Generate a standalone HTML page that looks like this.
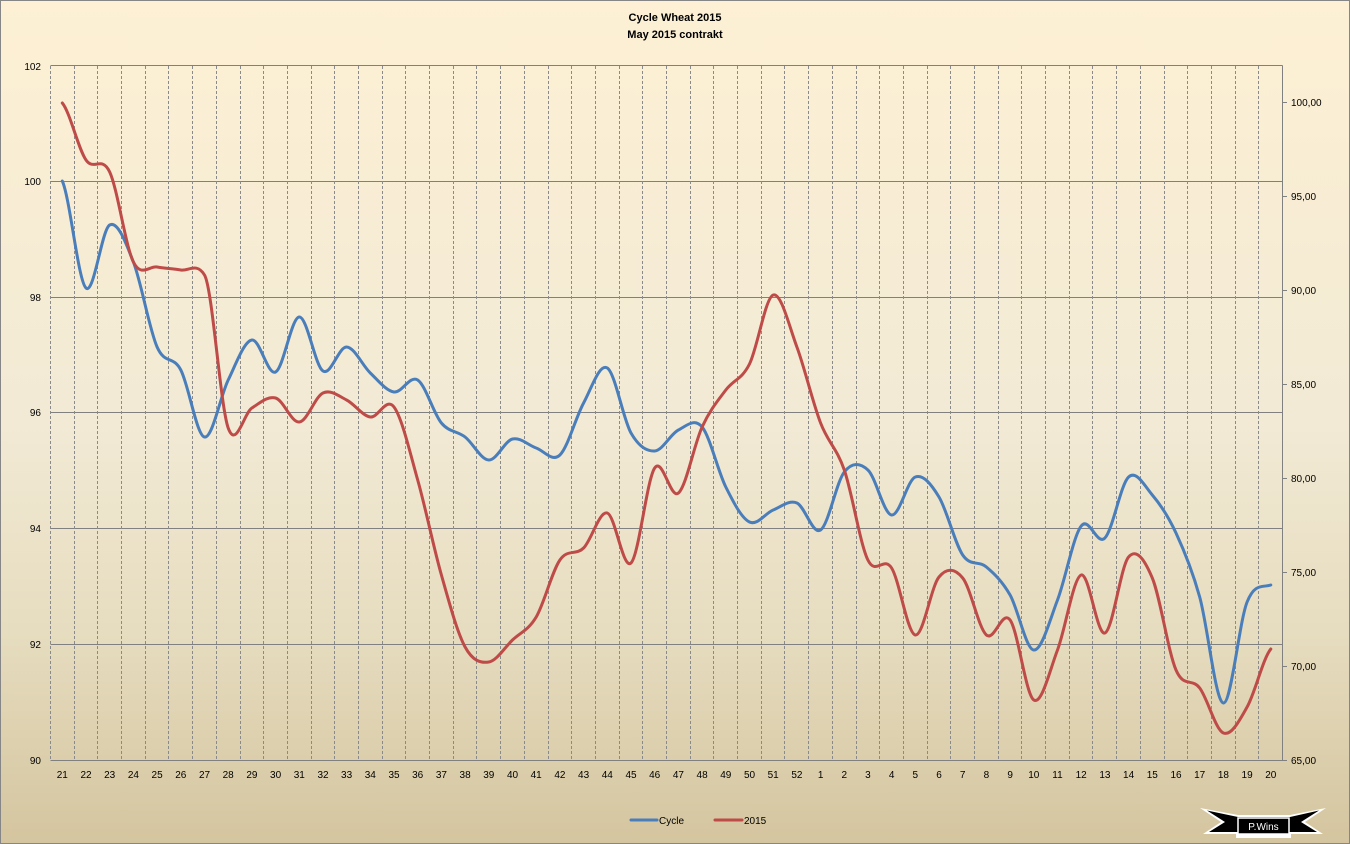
<!DOCTYPE html>
<html><head><meta charset="utf-8"><style>
html,body{margin:0;padding:0;}
body{width:1350px;height:844px;overflow:hidden;}
svg{display:block;}
text{font-family:"Liberation Sans",sans-serif;fill:#000;}
</style></head><body>
<svg width="1350" height="844" viewBox="0 0 1350 844" xmlns="http://www.w3.org/2000/svg">
<defs>
<linearGradient id="bg" x1="0" y1="0" x2="0" y2="1">
<stop offset="0" stop-color="#FDF0D4"/>
<stop offset="0.5" stop-color="#F2EAD5"/>
<stop offset="0.75" stop-color="#E6DCBF"/>
<stop offset="1" stop-color="#D4C59F"/>
</linearGradient>
</defs>
<rect x="0" y="0" width="1350" height="844" fill="url(#bg)"/>
<rect x="0.5" y="0.5" width="1349" height="843" fill="none" stroke="#868686" stroke-width="1"/>

<text x="675" y="21" font-size="11" font-weight="bold" text-anchor="middle">Cycle Wheat 2015</text>
<text x="675" y="38" font-size="11" font-weight="bold" text-anchor="middle">May 2015 contrakt</text>

<g stroke="#808080" stroke-width="1">
<line x1="50.5" y1="65.5" x2="1282.5" y2="65.5"/>
<line x1="50.5" y1="181.5" x2="1282.5" y2="181.5"/>
<line x1="50.5" y1="297.5" x2="1282.5" y2="297.5"/>
<line x1="50.5" y1="412.5" x2="1282.5" y2="412.5"/>
<line x1="50.5" y1="528.5" x2="1282.5" y2="528.5"/>
<line x1="50.5" y1="644.5" x2="1282.5" y2="644.5"/>
<line x1="50.5" y1="760.5" x2="1282.5" y2="760.5"/>
<line x1="1282.5" y1="65.5" x2="1282.5" y2="760.5"/>
</g>
<g stroke="#8a8a8a" stroke-width="1" stroke-dasharray="3,2">
<line x1="50.5" y1="66" x2="50.5" y2="760"/>
<line x1="74.5" y1="66" x2="74.5" y2="760"/>
<line x1="97.5" y1="66" x2="97.5" y2="760"/>
<line x1="121.5" y1="66" x2="121.5" y2="760"/>
<line x1="145.5" y1="66" x2="145.5" y2="760"/>
<line x1="168.5" y1="66" x2="168.5" y2="760"/>
<line x1="192.5" y1="66" x2="192.5" y2="760"/>
<line x1="216.5" y1="66" x2="216.5" y2="760"/>
<line x1="240.5" y1="66" x2="240.5" y2="760"/>
<line x1="263.5" y1="66" x2="263.5" y2="760"/>
<line x1="287.5" y1="66" x2="287.5" y2="760"/>
<line x1="311.5" y1="66" x2="311.5" y2="760"/>
<line x1="334.5" y1="66" x2="334.5" y2="760"/>
<line x1="358.5" y1="66" x2="358.5" y2="760"/>
<line x1="382.5" y1="66" x2="382.5" y2="760"/>
<line x1="405.5" y1="66" x2="405.5" y2="760"/>
<line x1="429.5" y1="66" x2="429.5" y2="760"/>
<line x1="453.5" y1="66" x2="453.5" y2="760"/>
<line x1="476.5" y1="66" x2="476.5" y2="760"/>
<line x1="500.5" y1="66" x2="500.5" y2="760"/>
<line x1="524.5" y1="66" x2="524.5" y2="760"/>
<line x1="548.5" y1="66" x2="548.5" y2="760"/>
<line x1="571.5" y1="66" x2="571.5" y2="760"/>
<line x1="595.5" y1="66" x2="595.5" y2="760"/>
<line x1="619.5" y1="66" x2="619.5" y2="760"/>
<line x1="642.5" y1="66" x2="642.5" y2="760"/>
<line x1="666.5" y1="66" x2="666.5" y2="760"/>
<line x1="690.5" y1="66" x2="690.5" y2="760"/>
<line x1="713.5" y1="66" x2="713.5" y2="760"/>
<line x1="737.5" y1="66" x2="737.5" y2="760"/>
<line x1="761.5" y1="66" x2="761.5" y2="760"/>
<line x1="784.5" y1="66" x2="784.5" y2="760"/>
<line x1="808.5" y1="66" x2="808.5" y2="760"/>
<line x1="832.5" y1="66" x2="832.5" y2="760"/>
<line x1="856.5" y1="66" x2="856.5" y2="760"/>
<line x1="879.5" y1="66" x2="879.5" y2="760"/>
<line x1="903.5" y1="66" x2="903.5" y2="760"/>
<line x1="927.5" y1="66" x2="927.5" y2="760"/>
<line x1="950.5" y1="66" x2="950.5" y2="760"/>
<line x1="974.5" y1="66" x2="974.5" y2="760"/>
<line x1="998.5" y1="66" x2="998.5" y2="760"/>
<line x1="1021.5" y1="66" x2="1021.5" y2="760"/>
<line x1="1045.5" y1="66" x2="1045.5" y2="760"/>
<line x1="1069.5" y1="66" x2="1069.5" y2="760"/>
<line x1="1092.5" y1="66" x2="1092.5" y2="760"/>
<line x1="1116.5" y1="66" x2="1116.5" y2="760"/>
<line x1="1140.5" y1="66" x2="1140.5" y2="760"/>
<line x1="1164.5" y1="66" x2="1164.5" y2="760"/>
<line x1="1187.5" y1="66" x2="1187.5" y2="760"/>
<line x1="1211.5" y1="66" x2="1211.5" y2="760"/>
<line x1="1235.5" y1="66" x2="1235.5" y2="760"/>
<line x1="1258.5" y1="66" x2="1258.5" y2="760"/>
</g>
<g stroke="#808080" stroke-width="1">
<line x1="1282" y1="102.5" x2="1287" y2="102.5"/>
<line x1="1282" y1="196.5" x2="1287" y2="196.5"/>
<line x1="1282" y1="290.5" x2="1287" y2="290.5"/>
<line x1="1282" y1="384.5" x2="1287" y2="384.5"/>
<line x1="1282" y1="478.5" x2="1287" y2="478.5"/>
<line x1="1282" y1="572.5" x2="1287" y2="572.5"/>
<line x1="1282" y1="666.5" x2="1287" y2="666.5"/>
<line x1="1282" y1="760.5" x2="1287" y2="760.5"/>
</g>

<g font-size="10" text-anchor="end">
<text x="41" y="70">102</text>
<text x="41" y="185">100</text>
<text x="41" y="301">98</text>
<text x="41" y="416">96</text>
<text x="41" y="532">94</text>
<text x="41" y="648">92</text>
<text x="41" y="764">90</text>
</g>
<g font-size="10">
<text x="1291" y="106">100,00</text>
<text x="1291" y="200">95,00</text>
<text x="1291" y="294">90,00</text>
<text x="1291" y="388">85,00</text>
<text x="1291" y="482">80,00</text>
<text x="1291" y="576">75,00</text>
<text x="1291" y="670">70,00</text>
<text x="1291" y="764">65,00</text>
</g>
<g font-size="10" text-anchor="middle">
<text x="62.3" y="778">21</text><text x="86.0" y="778">22</text><text x="109.7" y="778">23</text><text x="133.4" y="778">24</text>
<text x="157.1" y="778">25</text><text x="180.8" y="778">26</text><text x="204.5" y="778">27</text><text x="228.2" y="778">28</text>
<text x="251.9" y="778">29</text><text x="275.6" y="778">30</text><text x="299.3" y="778">31</text><text x="323.0" y="778">32</text>
<text x="346.6" y="778">33</text><text x="370.3" y="778">34</text><text x="394.0" y="778">35</text><text x="417.7" y="778">36</text>
<text x="441.4" y="778">37</text><text x="465.1" y="778">38</text><text x="488.8" y="778">39</text><text x="512.5" y="778">40</text>
<text x="536.2" y="778">41</text><text x="559.9" y="778">42</text><text x="583.6" y="778">43</text><text x="607.3" y="778">44</text>
<text x="631.0" y="778">45</text><text x="654.7" y="778">46</text><text x="678.4" y="778">47</text><text x="702.1" y="778">48</text>
<text x="725.8" y="778">49</text><text x="749.5" y="778">50</text><text x="773.2" y="778">51</text><text x="796.9" y="778">52</text>
<text x="820.6" y="778">1</text><text x="844.3" y="778">2</text><text x="867.9" y="778">3</text><text x="891.6" y="778">4</text>
<text x="915.3" y="778">5</text><text x="939.0" y="778">6</text><text x="962.7" y="778">7</text><text x="986.4" y="778">8</text>
<text x="1010.1" y="778">9</text><text x="1033.8" y="778">10</text><text x="1057.5" y="778">11</text><text x="1081.2" y="778">12</text>
<text x="1104.9" y="778">13</text><text x="1128.6" y="778">14</text><text x="1152.3" y="778">15</text><text x="1176.0" y="778">16</text>
<text x="1199.7" y="778">17</text><text x="1223.4" y="778">18</text><text x="1247.1" y="778">19</text><text x="1270.8" y="778">20</text>
</g>

<path fill="none" stroke="#4A7EBB" stroke-width="3" stroke-linejoin="round" stroke-linecap="round" d="
M62.3,181 C70.2,198.8 78.1,280.7 86.0,288
S101.8,229.3 109.7,225 S125.5,241.7 133.4,262 S149.2,329 157.1,347 S172.9,355 180.8,370
S196.6,435.3 204.5,437 S220.3,396.2 228.2,380 S244.0,341.3 251.9,340 S267.7,375.8 275.6,372
S291.4,317.2 299.3,317 S315.1,366 323.0,371 S338.7,346.7 346.6,347 S362.4,365.5 370.3,373
S386.1,390.8 394.0,392 S409.8,374.8 417.7,380 S433.5,413.5 441.4,423 S457.2,430.8 465.1,437
S480.9,459.7 488.8,460 S504.6,441 512.5,439 S528.3,445.3 536.2,448 S552.0,462.5 559.9,455
S575.7,417.5 583.6,403 S599.4,363 607.3,368 S623.1,419.2 631.0,433 S646.8,451.5 654.7,451
S670.5,434 678.4,430 S694.2,417.5 702.1,427 S717.9,471.2 725.8,487 S741.6,518.2 749.5,522
S765.3,513.2 773.2,510 S789.0,499.7 796.9,503 S812.7,535.2 820.6,530 S836.4,482 844.3,472
S860.0,462.8 867.9,470 S883.7,513.8 891.6,515 S907.4,480 915.3,477 S931.1,484 939.0,497
S954.8,543.3 962.7,555 S978.5,560.3 986.4,567 S1002.2,581.2 1010.1,595 S1025.9,649.2 1033.8,650
S1049.6,620.7 1057.5,600 S1073.3,536.3 1081.2,526 S1097.0,546.2 1104.9,538 S1120.7,484.2 1128.6,477
S1144.4,485.7 1152.3,495 S1168.1,516 1176.0,533 S1191.8,568.7 1199.7,597 S1215.5,702.2 1223.4,703
S1239.2,621.7 1247.1,602 S1262.9,587.8 1270.8,585"/>

<path fill="none" stroke="#BE4B48" stroke-width="3" stroke-linejoin="round" stroke-linecap="round" d="
M62.3,103 C70.2,112.5 78.1,148.5 86.0,160
S101.8,155 109.7,172 S125.5,246.2 133.4,262 S149.2,265.7 157.1,267 S172.9,268.7 180.8,270
S196.6,262 204.5,275 S220.3,405.8 228.2,428 S244.0,413 251.9,408 S267.7,395.7 275.6,398
S291.4,422.8 299.3,422 S315.1,396.7 323.0,393 S338.7,396 346.6,400 S362.4,415.8 370.3,417
S386.1,396.5 394.0,407 S409.8,452 417.7,480 S433.5,547.2 441.4,575 S457.2,632.5 465.1,647
S480.9,663.2 488.8,662 S504.6,647.5 512.5,640 S528.3,630.3 536.2,617 S552.0,571.5 559.9,560
S575.7,555.8 583.6,548 S599.4,510.5 607.3,513 S623.1,570.5 631.0,563 S646.8,479.7 654.7,468
S670.5,499.8 678.4,493 S694.2,444.2 702.1,427 S717.9,400.5 725.8,390 S741.6,379.8 749.5,364
S765.3,297.8 773.2,295 S789.0,325.7 796.9,347 S812.7,402.5 820.6,423 S836.4,447.2 844.3,470
S860.0,543.7 867.9,560 S883.7,555.5 891.6,568 S907.4,633.5 915.3,635 S931.1,586.5 939.0,577
S954.8,568.3 962.7,578 S978.5,628 986.4,635 S1002.2,609.2 1010.1,620 S1025.9,695 1033.8,700
S1049.6,670.8 1057.5,650 S1073.3,577.8 1081.2,575 S1097.0,636 1104.9,633 S1120.7,566.2 1128.6,557
S1144.4,559.2 1152.3,578 S1168.1,651.7 1176.0,670 S1191.8,677.5 1199.7,688 S1215.5,729.8 1223.4,733
S1239.2,721 1247.1,707 S1262.9,658.7 1270.8,649"/>

<line x1="631" y1="820" x2="657" y2="820" stroke="#4A7EBB" stroke-width="3" stroke-linecap="round"/>
<text x="659" y="824" font-size="10">Cycle</text>
<line x1="715" y1="820" x2="742" y2="820" stroke="#BE4B48" stroke-width="3" stroke-linecap="round"/>
<text x="744" y="824" font-size="10">2015</text>

<polygon points="1200,808 1238,815 1290,815 1326,808 1305,822 1323,834 1291,834 1291,838 1236,838 1236,834 1203,834 1221,822" fill="#ffffff"/>
<polygon points="1207,810.5 1238,817 1290,817 1319,810.5 1301,822 1317,832 1291,832 1236,832 1209,832 1225,822" fill="#000000"/>
<rect x="1238" y="818" width="51" height="16" fill="#000" stroke="#fff" stroke-width="1.5"/>
<text x="1263.5" y="830" font-size="10" text-anchor="middle" style="fill:#ffffff">P.Wins</text>
</svg>
</body></html>
